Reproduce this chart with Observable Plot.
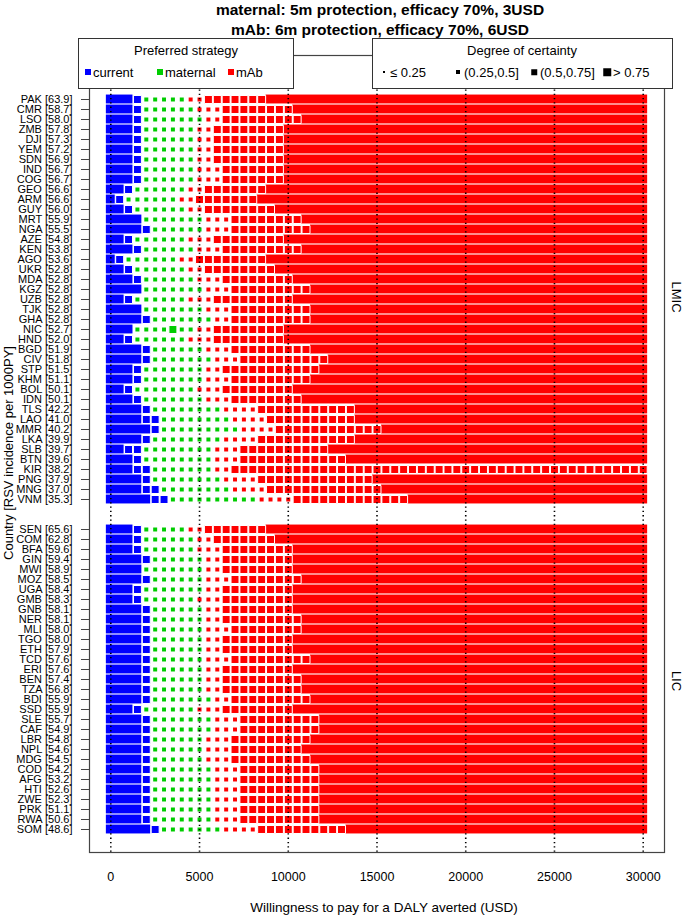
<!DOCTYPE html>
<html>
<head>
<meta charset="utf-8">
<script src="https://cdn.jsdelivr.net/npm/d3@7"></script>
<script src="https://cdn.jsdelivr.net/npm/@observablehq/plot@0.6"></script>
<style>
  body { margin: 0; background: #fff; font-family: "Liberation Sans", Arial, Helvetica, sans-serif; }
  #wrap { position: relative; width: 685px; height: 916px; overflow: hidden; }
  .abs { position: absolute; white-space: nowrap; color: #000; line-height: 1; }
  .c { transform: translate(-50%, -50%); }
  .box { position: absolute; background: #fff; border: 1px solid #333; box-sizing: border-box; }
  .sw { position: absolute; transform: translate(-50%, -50%); }
</style>
</head>
<body>
<div id="wrap">
  <div id="chart"></div>
  <div class="abs c" style="left:380px;top:10px;font-weight:bold;font-size:15.5px;">maternal: 5m protection, efficacy 70%, 3USD</div>
  <div class="abs c" style="left:380px;top:30px;font-weight:bold;font-size:15.5px;">mAb: 6m protection, efficacy 70%, 6USD</div>

  <div class="box" style="left:78px;top:38px;width:216px;height:51px;"></div>
  <div class="abs c" style="left:186px;top:50px;font-size:13px;">Preferred strategy</div>
  <div id="leg1"></div>

  <div class="box" style="left:372px;top:38px;width:301px;height:51px;"></div>
  <div class="abs c" style="left:522px;top:50px;font-size:13px;">Degree of certainty</div>
  <div id="leg2"></div>

  <div class="abs c" style="left:8px;top:453px;font-size:13px;transform:translate(-50%,-50%) rotate(-90deg);">Country [RSV incidence per 1000PY]</div>
  <div class="abs c" style="left:384px;top:908px;font-size:13.5px;">Willingness to pay for a DALY averted (USD)</div>
  <div class="abs c" style="left:676px;top:297px;font-size:13px;transform:translate(-50%,-50%) rotate(90deg);">LMIC</div>
  <div class="abs c" style="left:676px;top:681px;font-size:13px;transform:translate(-50%,-50%) rotate(90deg);">LIC</div>
</div>
<script>
// ---------------- data ----------------
const strategies = ["current", "maternal", "mAb"];
const strategyColors = ["#0000FF", "#00CD00", "#FF0000"];
const certaintyLabels = ["\u2264 0.25", "(0.25,0.5]", "(0.5,0.75]", "> 0.75"];
const wtpTicks = [0, 5000, 10000, 15000, 20000, 25000, 30000];
const wtpStep = 500;      // grid of WTP values evaluated
const wtpCells = 61;      // 0 .. 30000

const lmicCountries = ["PAK","CMR","LSO","ZMB","DJI","YEM","SDN","IND","COG","GEO","ARM","GUY","MRT","NGA","AZE","KEN","AGO","UKR","MDA","KGZ","UZB","TJK","GHA","NIC","HND","BGD","CIV","STP","KHM","BOL","IDN","TLS","LAO","MMR","LKA","SLB","BTN","KIR","PNG","MNG","VNM"];
const lmicIncidence = ["63.9","58.7","58.0","57.8","57.3","57.2","56.9","56.7","56.7","56.6","56.6","56.0","55.9","55.5","54.8","53.8","53.6","52.8","52.8","52.8","52.8","52.8","52.8","52.7","52.0","51.9","51.8","51.5","51.1","50.1","50.1","42.2","41.0","40.2","39.9","39.7","39.6","38.2","37.9","37.0","35.3"];
// run-length codes along the WTP grid:
// A current (certain), a current >0.75, g maternal (0.25,0.5], G maternal >0.75,
// s mAb (0.25,0.5], r mAb >0.75, R mAb (certain, fills the rest)
const lmicRuns = [
  "A3 a1 g5 s2 r7 R","A3 a1 g6 s3 r8 R","A3 a1 g7 s2 r9 R","A3 a1 g6 s2 r8 R","A3 a1 g6 s2 r8 R",
  "A3 a1 g6 s2 r8 R","A3 a1 g6 s2 r8 R","A3 a1 g6 s3 r7 R","A3 a1 g6 s3 r7 R","A2 a1 g6 s2 r7 R",
  "A1 a1 g6 s2 r7 R","A2 a1 g6 s2 r8 R","A4 g7 s3 r8 R","A4 a1 g6 s3 r9 R","A2 a1 g6 s3 r8 R",
  "A3 a1 g6 s3 r9 R","A1 a1 g6 s2 r8 R","A2 a1 g6 s2 r8 R","A3 a1 g6 s3 r8 R","A4 g7 s3 r9 R",
  "A2 a1 g6 s3 r9 R","A4 g7 s3 r9 R","A4 a1 g7 s2 r9 R","A3 g4 G1 g2 s2 r8 R","A2 a1 g6 s3 r8 R",
  "A4 a1 g6 s3 r9 R","A4 a1 g7 s3 r10 R","A3 a1 g7 s2 r11 R","A3 a1 g7 s3 r9 R","A2 a1 g7 s3 r8 R",
  "A3 a1 g7 s3 r8 R","A4 a1 g8 s4 r11 R","A4 a2 g8 s4 r10 R","A5 a1 g9 s4 r12 R","A4 a1 g8 s4 r11 R",
  "A2 a2 g8 s3 r10 R","A3 a1 g8 s3 r12 R","A3 a2 g7 s2 r47","A4 a1 g8 s4 r13 R","A4 a2 g8 s4 r13 R",
  "A5 a2 g10 s4 r13 R"
];

const licCountries = ["SEN","COM","BFA","GIN","MWI","MOZ","UGA","GMB","GNB","NER","MLI","TGO","ETH","TCD","ERI","BEN","TZA","BDI","SSD","SLE","CAF","LBR","NPL","MDG","COD","AFG","HTI","ZWE","PRK","RWA","SOM"];
const licIncidence = ["65.6","62.8","59.6","59.4","58.9","58.5","58.4","58.3","58.1","58.1","58.0","58.0","57.9","57.6","57.6","57.4","56.8","55.9","55.9","55.7","54.9","54.8","54.6","54.5","54.2","53.2","52.6","52.3","51.1","50.6","48.6"];
const licRuns = [
  "A3 a1 g5 s2 r7 R","A3 a1 g6 s2 r7 R","A3 a1 g6 s3 r8 R","A4 a1 g6 s2 r8 R","A4 g7 s2 r8 R",
  "A4 a1 g6 s3 r8 R","A3 a1 g7 s2 r8 R","A3 a1 g6 s3 r8 R","A4 a1 g6 s2 r8 R","A4 a1 g6 s2 r9 R",
  "A4 a1 g6 s3 r8 R","A4 a1 g6 s2 r8 R","A4 a1 g6 s2 r8 R","A4 a1 g6 s3 r9 R","A4 a1 g6 s2 r8 R",
  "A4 a1 g6 s2 r9 R","A4 a1 g6 s2 r9 R","A4 a1 g7 s2 r9 R","A3 a1 g6 s3 r8 R","A4 a1 g7 s3 r9 R",
  "A4 a1 g7 s3 r9 R","A4 a1 g6 s3 r9 R","A4 a1 g6 s3 r8 R","A4 a1 g6 s3 r9 R","A4 a1 g7 s3 r9 R",
  "A4 a1 g7 s3 r9 R","A4 a1 g7 s3 r9 R","A4 a1 g7 s3 r9 R","A4 a1 g7 s3 r9 R","A4 a1 g7 s3 r9 R",
  "A5 a1 g7 s4 r10 R"
];

// ---------------- build cells ----------------
const codeMap = {
  A: ["current", "solid"], a: ["current", 4],
  g: ["maternal", 2], G: ["maternal", 4],
  s: ["mAb", 2], r: ["mAb", 4], R: ["mAb", "solid"]
};
const cells = [];
const solidRuns = [];
function addRow(country, runs) {
  let k = 0;
  for (const tok of runs.split(" ")) {
    const code = tok[0];
    const n = tok.length > 1 ? +tok.slice(1) : wtpCells - k;
    const [strategy, cls] = codeMap[code];
    if (cls === "solid") {
      solidRuns.push({country, strategy, x1: k * wtpStep - wtpStep / 2, x2: (k + n - 1) * wtpStep + wtpStep / 2});
    } else {
      for (let i = 0; i < n; i++) cells.push({country, strategy, cls, wtp: (k + i) * wtpStep});
    }
    k += n;
  }
}
lmicCountries.forEach((c, i) => addRow(c, lmicRuns[i]));
licCountries.forEach((c, i) => addRow(c, licRuns[i]));

const labelOf = new Map();
lmicCountries.forEach((c, i) => labelOf.set(c, `${c} [${lmicIncidence[i]}]`));
licCountries.forEach((c, i) => labelOf.set(c, `${c} [${licIncidence[i]}]`));
const yDomain = [...lmicCountries, "gap1", "gap2", ...licCountries];
const allCountries = [...lmicCountries, ...licCountries];

const sizeR = {2: 2.25, 3: 3.1, 4: 4.5};

const chart = Plot.plot({
  width: 685, height: 916,
  marginTop: 55, marginBottom: 64, marginLeft: 89, marginRight: 21,
  style: {fontFamily: '"Liberation Sans", Arial, Helvetica, sans-serif', background: "transparent"},
  x: {domain: [-1200, 31200], axis: null},
  y: {type: "band", domain: yDomain, range: [90, 837], padding: 0, axis: null},
  color: {domain: strategies, range: strategyColors},
  marks: [
    Plot.rect(solidRuns, {x1: "x1", x2: "x2", y: "country", fill: "strategy", insetTop: 0.55, insetBottom: 0.55}),
    Plot.dot(cells.filter(d => d.cls === 4), {x: "wtp", y: "country", symbol: "square", r: sizeR[4], fill: "strategy", stroke: "white", strokeWidth: 1}),
    Plot.dot(cells.filter(d => d.cls === 3), {x: "wtp", y: "country", symbol: "square", r: sizeR[3], fill: "strategy"}),
    Plot.dot(cells.filter(d => d.cls === 2), {x: "wtp", y: "country", symbol: "square", r: sizeR[2], fill: "strategy"}),
    Plot.ruleX(wtpTicks, {stroke: "black", strokeWidth: 1.6, strokeDasharray: "1.3,3"}),
    Plot.frame({stroke: "#444", strokeWidth: 1.2}),
    Plot.axisY({ticks: allCountries, tickSize: 8, tickPadding: 9, fontSize: 11, stroke: "#444", tickFormat: d => labelOf.get(d), label: null, anchor: "left"}),
    Plot.axisX({ticks: wtpTicks, tickSize: 0, tickPadding: 20, fontSize: 12.5, tickFormat: d => String(d), label: null, anchor: "bottom"})
  ]
});
document.getElementById("chart").appendChild(chart);

// ---------------- legends ----------------
const leg1 = document.getElementById("leg1");
const leg1X = [88, 160, 231];
strategies.forEach((s, i) => {
  const sw = document.createElement("div");
  sw.className = "sw";
  sw.style.cssText = `left:${leg1X[i]}px;top:72px;width:6px;height:6px;background:${strategyColors[i]};`;
  leg1.appendChild(sw);
  const t = document.createElement("div");
  t.className = "abs";
  t.style.cssText = `left:${leg1X[i] + 5}px;top:66px;font-size:13px;`;
  t.textContent = s;
  leg1.appendChild(t);
});
const leg2 = document.getElementById("leg2");
const leg2X = [384, 458, 534, 607];
const leg2S = [2, 4, 5.5, 7.5];
certaintyLabels.forEach((s, i) => {
  const sw = document.createElement("div");
  sw.className = "sw";
  sw.style.cssText = `left:${leg2X[i]}px;top:72px;width:${leg2S[i]}px;height:${leg2S[i]}px;background:#000;`;
  leg2.appendChild(sw);
  const t = document.createElement("div");
  t.className = "abs";
  t.style.cssText = `left:${leg2X[i] + 6}px;top:66px;font-size:13px;`;
  t.textContent = s;
  leg2.appendChild(t);
});
</script>
</body>
</html>
